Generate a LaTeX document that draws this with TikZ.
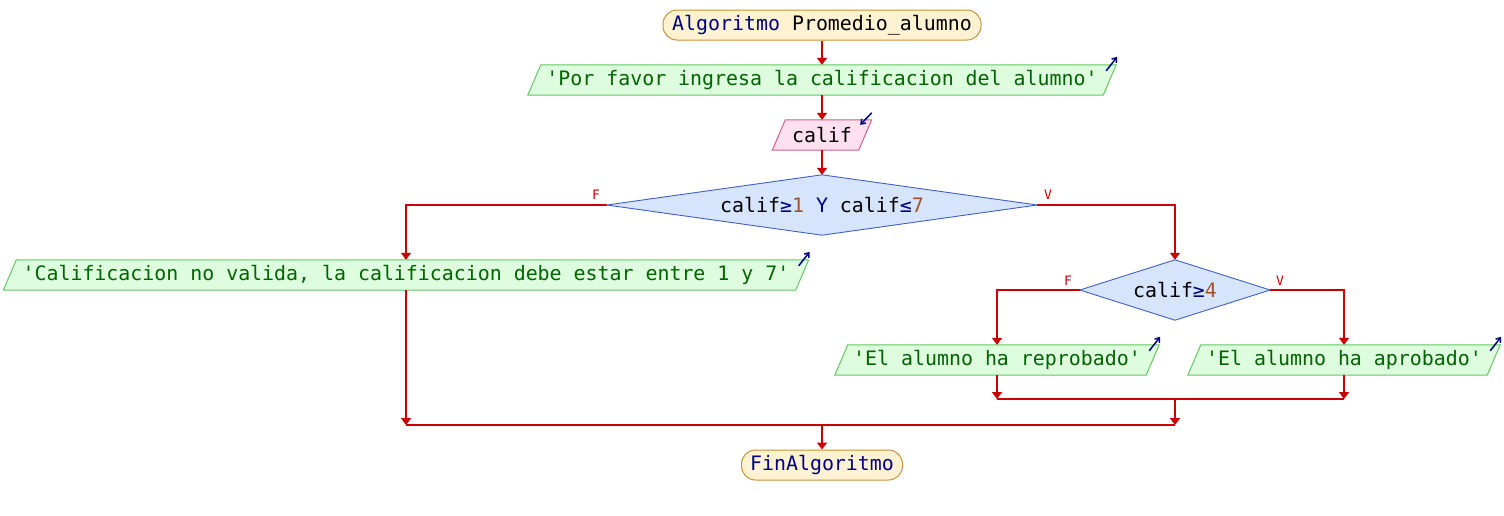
\documentclass[tikz,border=0pt]{standalone}
\usepackage{fontspec}
\setmonofont{DejaVu Sans Mono}
\usetikzlibrary{arrows.meta,backgrounds,calc}

\definecolor{flowred}{RGB}{204,0,0}
\definecolor{termfill}{RGB}{255,242,210}
\definecolor{termline}{RGB}{200,145,60}
\definecolor{outfill}{RGB}{222,252,222}
\definecolor{outline}{RGB}{100,200,100}
\definecolor{outtext}{RGB}{0,100,0}
\definecolor{infill}{RGB}{255,224,240}
\definecolor{inline}{RGB}{210,96,140}
\definecolor{decfill}{RGB}{214,228,252}
\definecolor{decline}{RGB}{64,96,200}
\definecolor{kw}{RGB}{0,0,128}
\definecolor{num}{RGB}{160,82,45}

\tikzset{
  flow/.style={draw=flowred, line width=2pt, -{Triangle[length=7pt,width=10pt]}},
  flowline/.style={draw=flowred, line width=2pt},
  term/.style={draw=termline, fill=termfill, line width=1pt, rounded corners=14pt,
    minimum height=30pt, inner sep=0pt},
  boxtext/.style={inner sep=0pt, minimum height=30pt},
  outshape/.style={draw=outline, fill=outfill, line width=1pt},
  inshape/.style={draw=inline, fill=infill, line width=1pt},
  decshape/.style={draw=decline, fill=decfill, line width=0.9pt},
  branch/.style={text=flowred, font=\ttfamily\fontsize{13}{14}\selectfont, inner sep=0pt},
  ioicon/.style={draw=kw, line width=1.5pt, -{Straight Barb[length=4pt,width=6pt]}}
}

\begin{document}
\begin{tikzpicture}[x=1pt, y=-1pt, font=\ttfamily\fontsize{19.9}{22}\selectfont]
\useasboundingbox (0,0) rectangle (1504,515);

% start and end terminals
\node[term, minimum width=318pt] (start) at (822,25)
  {\textcolor{kw}{Algoritmo} Promedio\_alumno};
\node[term, minimum width=161pt] (fin) at (822,465)
  {\textcolor{kw}{FinAlgoritmo}};

% input / output boxes (text only, outlines drawn below)
\node[boxtext, minimum width=575pt, text=outtext] (o1) at (822,80)
  {'Por favor ingresa la calificacion del alumno'};
\node[boxtext, minimum width=86pt] (i1) at (822,135) {calif};
\node[boxtext, minimum width=792pt, text=outtext] (o2) at (406,275)
  {'Calificacion no valida, la calificacion debe estar entre 1 y 7'};
\node[boxtext, minimum width=311pt, text=outtext] (o3) at (997,360)
  {'El alumno ha reprobado'};
\node[boxtext, minimum width=299pt, text=outtext] (o4) at (1344,360)
  {'El alumno ha aprobado'};

% decisions
\node[boxtext, minimum width=430pt, minimum height=60pt] (d1) at (822,205)
  {calif\textcolor{kw}{≥}\textcolor{num}{1} \textcolor{kw}{Y} calif\textcolor{kw}{≤}\textcolor{num}{7}};
\node[boxtext, minimum width=190pt, minimum height=60pt] (d2) at (1175,290)
  {calif\textcolor{kw}{≥}\textcolor{num}{4}};

% outlines behind the texts
\begin{scope}[on background layer]
  \foreach \n in {o1,o2,o3,o4}
    \path[outshape] ([xshift=-6.5pt]\n.south west) -- ([xshift=6.5pt]\n.north west)
      -- ([xshift=6.5pt]\n.north east) -- ([xshift=-6.5pt]\n.south east) -- cycle;
  \path[inshape] ([xshift=-6.5pt]i1.south west) -- ([xshift=6.5pt]i1.north west)
      -- ([xshift=6.5pt]i1.north east) -- ([xshift=-6.5pt]i1.south east) -- cycle;
  \foreach \n in {d1,d2}
    \path[decshape] (\n.north) -- (\n.east) -- (\n.south) -- (\n.west) -- cycle;
\end{scope}

% output / input markers
\foreach \n in {o1,o2,o3,o4}
  \draw[ioicon] ([shift={(-3.5,6)}]\n.north east) -- ([shift={(7.5,-8)}]\n.north east);
\draw[ioicon] ([shift={(6.5,-7)}]i1.north east) -- ([shift={(-5,5)}]i1.north east);

% merge points
\coordinate (m1) at (1175,399);
\coordinate (m2) at (822,425);

% connectors
\draw[flow] (start) -- (o1);
\draw[flow] (o1) -- (i1);
\draw[flow] (i1) -- (d1);
\draw[flow] (d1.west) -| (o2);
\draw[flow] (d1.east) -| (d2);
\draw[flow] (d2.west) -| (o3);
\draw[flow] (d2.east) -| (o4);
\draw[flow] (o3) -- (o3 |- m1);
\draw[flow] (o4) -- (o4 |- m1);
\draw[flowline] (o3 |- m1) -- (o4 |- m1);
\draw[flow] (m1) -- (m1 |- m2);
\draw[flow] (o2) -- (o2 |- m2);
\draw[flowline] (o2 |- m2) -- (m1 |- m2);
\draw[flow] (m2) -- (fin);

% branch labels
\node[branch] (f1) at (596,195) {F};
\node[branch] (v1) at (1048,195) {V};
\node[branch] (f2) at (1068,281) {F};
\node[branch] (v2) at (1280,281) {V};
\end{tikzpicture}
\end{document}
